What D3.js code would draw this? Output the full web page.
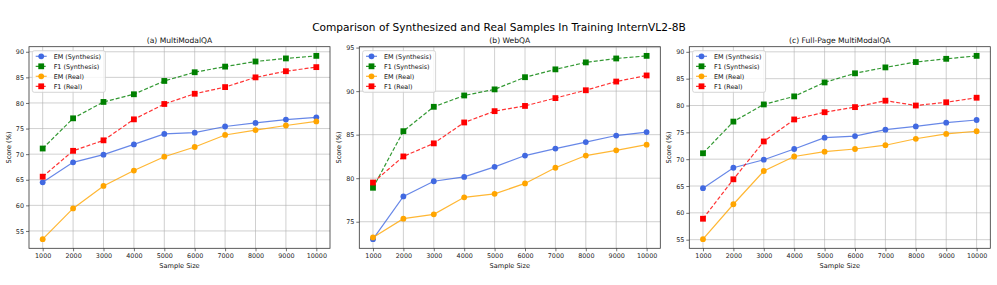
<!DOCTYPE html>
<html>
<head>
<meta charset="utf-8">
<script src="https://cdn.jsdelivr.net/npm/d3@7"></script>
<style>
  html, body { margin: 0; padding: 0; background: #fff; }
  svg { display: block; font-family: "DejaVu Sans", sans-serif; }
</style>
</head>
<body>
<svg id="chart" width="997" height="285"></svg>
<script>
const sampleSizes = [1000, 2000, 3000, 4000, 5000, 6000, 7000, 8000, 9000, 10000];
const seriesNames = ["EM (Synthesis)", "F1 (Synthesis)", "EM (Real)", "F1 (Real)"];
const panelTitles = ["(a) MultiModalQA", "(b) WebQA", "(c) Full-Page MultiModalQA"];

// Panel (a) MultiModalQA
const a_emSynth = [64.5, 68.4, 69.9, 71.9, 73.95, 74.2, 75.4, 76.1, 76.75, 77.2];
const a_f1Synth = [71.1, 77.0, 80.2, 81.7, 84.3, 86.0, 87.1, 88.1, 88.7, 89.2];
const a_emReal  = [53.4, 59.4, 63.8, 66.8, 69.5, 71.4, 73.75, 74.7, 75.6, 76.4];
const a_f1Real  = [65.6, 70.65, 72.7, 76.8, 79.8, 81.8, 83.1, 85.0, 86.2, 87.0];
const a_yTicks = [55, 60, 65, 70, 75, 80, 85, 90];

// Panel (b) WebQA
const b_emSynth = [73.0, 77.9, 79.65, 80.15, 81.3, 82.6, 83.4, 84.15, 84.9, 85.3];
const b_f1Synth = [78.9, 85.4, 88.2, 89.5, 90.2, 91.6, 92.5, 93.3, 93.75, 94.05];
const b_emReal  = [73.2, 75.35, 75.85, 77.8, 78.2, 79.4, 81.2, 82.6, 83.2, 83.85];
const b_f1Real  = [79.5, 82.5, 84.0, 86.4, 87.7, 88.3, 89.2, 90.1, 91.1, 91.8];
const b_yTicks = [75, 80, 85, 90, 95];

// Panel (c) Full-Page MultiModalQA
const c_emSynth = [64.6, 68.4, 69.9, 71.9, 74.0, 74.3, 75.5, 76.1, 76.8, 77.3];
const c_f1Synth = [71.1, 77.0, 80.2, 81.7, 84.3, 86.0, 87.1, 88.1, 88.7, 89.25];
const c_emReal  = [55.1, 61.6, 67.8, 70.5, 71.4, 71.9, 72.6, 73.8, 74.7, 75.2];
const c_f1Real  = [58.9, 66.25, 73.3, 77.4, 78.75, 79.7, 80.9, 80.0, 80.6, 81.45];
const c_yTicks = [55, 60, 65, 70, 75, 80, 85, 90];

const colors = ["#4169E1", "#008000", "#FFA500", "#FF0000"];
const dashed = [false, true, false, true];
const markers = ["circle", "square", "circle", "square"];

const panels = [
  { title: panelTitles[0], series: [a_emSynth, a_f1Synth, a_emReal, a_f1Real], yTicks: a_yTicks, left: 29 },
  { title: panelTitles[1], series: [b_emSynth, b_f1Synth, b_emReal, b_f1Real], yTicks: b_yTicks, left: 359.3 },
  { title: panelTitles[2], series: [c_emSynth, c_f1Synth, c_emReal, c_f1Real], yTicks: c_yTicks, left: 689.3 }
];

const svg = d3.select("#chart");
const W = 301, plotTop = 46.7, plotBottom = 248.3;

svg.append("text")
  .attr("x", 499).attr("y", 30.5)
  .attr("text-anchor", "middle")
  .attr("font-size", 10.6)
  .attr("fill", "#000")
  .text("Comparison of Synthesized and Real Samples In Training InternVL2-8B");

panels.forEach(p => {
  const g = svg.append("g");
  const xmin = d3.min(sampleSizes), xmax = d3.max(sampleSizes);
  const xpad = (xmax - xmin) * 0.05;
  const x = d3.scaleLinear().domain([xmin - xpad, xmax + xpad]).range([p.left, p.left + W]);
  const all = p.series.flat();
  const ymin = d3.min(all), ymax = d3.max(all);
  const ypad = (ymax - ymin) * 0.05;
  const y = d3.scaleLinear().domain([ymin - ypad, ymax + ypad]).range([plotBottom, plotTop]);

  // grid
  g.append("g").selectAll("line").data(sampleSizes).join("line")
    .attr("x1", d => x(d)).attr("x2", d => x(d)).attr("y1", plotTop).attr("y2", plotBottom)
    .attr("stroke", "#b0b0b0").attr("stroke-opacity", 0.6).attr("stroke-width", 1);
  g.append("g").selectAll("line").data(p.yTicks).join("line")
    .attr("y1", d => y(d)).attr("y2", d => y(d)).attr("x1", p.left).attr("x2", p.left + W)
    .attr("stroke", "#b0b0b0").attr("stroke-opacity", 0.6).attr("stroke-width", 1);

  // axes
  const xAxis = g.append("g").attr("transform", `translate(0,${plotBottom})`)
    .call(d3.axisBottom(x).tickValues(sampleSizes).tickFormat(d3.format("d")).tickSize(3).tickPadding(2));
  const yAxis = g.append("g").attr("transform", `translate(${p.left},0)`)
    .call(d3.axisLeft(y).tickValues(p.yTicks).tickFormat(d3.format("d")).tickSize(3).tickPadding(2));
  [xAxis, yAxis].forEach(ax => {
    ax.select(".domain").remove();
    ax.selectAll("text").attr("font-size", 6.4).attr("fill", "#222").attr("font-family", "DejaVu Sans, sans-serif");
    ax.selectAll("line").attr("stroke", "#333").attr("stroke-width", 0.7);
  });

  // frame
  g.append("rect").attr("x", p.left).attr("y", plotTop).attr("width", W).attr("height", plotBottom - plotTop)
    .attr("fill", "none").attr("stroke", "#333").attr("stroke-width", 0.8);

  // series
  p.series.forEach((vals, i) => {
    const pts = vals.map((v, j) => [sampleSizes[j], v]);
    const line = d3.line().x(d => x(d[0])).y(d => y(d[1]));
    g.append("path").datum(pts).attr("d", line)
      .attr("fill", "none").attr("stroke", colors[i]).attr("stroke-width", 1.2)
      .attr("stroke-opacity", 0.8)
      .attr("stroke-dasharray", dashed[i] ? "4,2" : null);
    if (markers[i] === "circle") {
      g.append("g").selectAll("circle").data(pts).join("circle")
        .attr("cx", d => x(d[0])).attr("cy", d => y(d[1])).attr("r", 2.9)
        .attr("fill", colors[i]);
    } else {
      g.append("g").selectAll("rect").data(pts).join("rect")
        .attr("x", d => x(d[0]) - 2.9).attr("y", d => y(d[1]) - 2.9)
        .attr("width", 5.8).attr("height", 5.8).attr("fill", colors[i]);
    }
  });

  // titles
  g.append("text").attr("x", p.left + W / 2).attr("y", plotTop - 3.5)
    .attr("text-anchor", "middle").attr("font-size", 7.6).attr("fill", "#111").text(p.title);
  g.append("text").attr("x", p.left + W / 2).attr("y", 268)
    .attr("text-anchor", "middle").attr("font-size", 6.6).attr("fill", "#111").text("Sample Size");
  g.append("text").attr("transform", `translate(${p.left - 18},${(plotTop + plotBottom) / 2}) rotate(-90)`)
    .attr("text-anchor", "middle").attr("font-size", 6.6).attr("fill", "#111").text("Score (%)");

  // legend
  const lg = g.append("g");
  lg.append("rect").attr("x", p.left + 3.3).attr("y", plotTop + 4).attr("width", 73).attr("height", 41.6)
    .attr("rx", 2).attr("fill", "#fff").attr("fill-opacity", 0.8).attr("stroke", "#ccc").attr("stroke-width", 0.8);
  seriesNames.forEach((name, i) => {
    const ly = plotTop + 9.6 + i * 10;
    const lx0 = p.left + 6.7, lx1 = p.left + 17.7, lm = (lx0 + lx1) / 2;
    lg.append("line").attr("x1", lx0).attr("x2", lx1).attr("y1", ly).attr("y2", ly)
      .attr("stroke", colors[i]).attr("stroke-width", 1.2).attr("stroke-opacity", 0.8)
      .attr("stroke-dasharray", dashed[i] ? "4,2" : null);
    if (markers[i] === "circle") {
      lg.append("circle").attr("cx", lm).attr("cy", ly).attr("r", 2.9).attr("fill", colors[i]);
    } else {
      lg.append("rect").attr("x", lm - 2.9).attr("y", ly - 2.9).attr("width", 5.8).attr("height", 5.8).attr("fill", colors[i]);
    }
    lg.append("text").attr("x", p.left + 24.7).attr("y", ly).attr("dy", "0.35em")
      .attr("font-size", 6.4).attr("fill", "#111").text(name);
  });
});
</script>
</body>
</html>
